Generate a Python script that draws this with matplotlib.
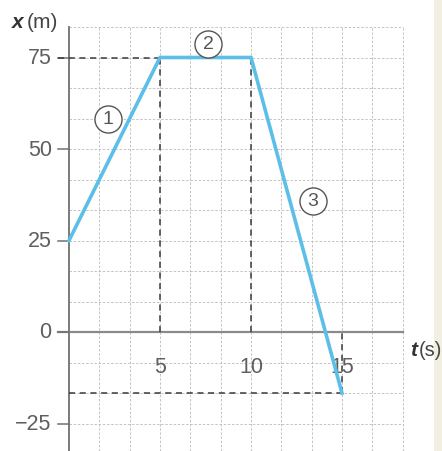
import matplotlib
matplotlib.use("Agg")
import matplotlib.pyplot as plt
from matplotlib.patches import Rectangle
import numpy as np

# ---- data ----
t_values = [0, 5, 10, 15]
x_values = [25, 75, 75, -16.7]
y_ticks = [75, 50, 25, 0, -25]
y_tick_labels = ["75", "50", "25", "0", "\u221225"]
x_ticks = [5, 10, 15]
x_tick_labels = ["5", "10", "15"]
segment_labels = ["1", "2", "3"]
segment_label_pos = [(2.14, 58.2), (7.64, 78.7), (13.4, 35.8)]

W, H = 442, 452
fig = plt.figure(figsize=(W / 100, H / 100), dpi=100)
ax = fig.add_axes([0, 0, 1, 1])

# pixel mapping: t=0 -> 69 px, 18.2 px/s ; x=0 -> 333 px, 3.66 px/m
px_t0, px_per_t = 69.0, 18.2
py_x0, py_per_x = 333.0, 3.66
ax.set_xlim(-px_t0 / px_per_t, (W - px_t0) / px_per_t)
ax.set_ylim(-(H - py_x0) / py_per_x, py_x0 / py_per_x)
ax.axis("off")

grid_color = "#bcbcbc"
t_grid_max = 11 * 5 / 3
x_grid_top = 10 * 25 / 3
ybot = ax.get_ylim()[0]

# scan shadow on the right edge
ax.add_patch(Rectangle((ax.get_xlim()[1] - 0.45, ybot), 0.6, 200,
                       facecolor="#f3eee2", edgecolor="none", zorder=0))

# grid
for k in range(1, 12):
    tg = k * 5 / 3
    ax.plot([tg, tg], [ybot, x_grid_top], color=grid_color, lw=0.6,
            ls=(0, (3, 2)), zorder=1)
for j in range(-3, 11):
    yg = j * 25 / 3
    ax.plot([0, t_grid_max], [yg, yg], color=grid_color, lw=0.6,
            ls=(0, (3, 2)), zorder=1)

# axes lines
ax.plot([0, 0], [ybot, x_grid_top], color="#707070", lw=1.3, zorder=2)
ax.plot([-0.6, t_grid_max], [0, 0], color="#8a8a8a", lw=1.6, zorder=2)
for yv in y_ticks:
    ax.plot([-0.6, 0], [yv, yv], color="#707070", lw=1.1, zorder=2)

# dashed helper lines
dash = dict(color="#3a3a3a", lw=1.1, ls=(0, (4, 3)), zorder=3)
ax.plot([-0.6, t_values[1]], [x_values[1], x_values[1]], **dash)
ax.plot([t_values[1], t_values[1]], [0, x_values[1]], **dash)
ax.plot([t_values[2], t_values[2]], [0, x_values[2]], **dash)
ax.plot([t_values[3], t_values[3]], [x_values[3], 0], **dash)
ax.plot([0, t_values[3]], [x_values[3], x_values[3]], **dash)

# motion line
ax.plot(t_values, x_values, color="#5bbfe8", lw=2.6, zorder=4,
        solid_joinstyle="miter")

# tick labels
font = "Liberation Sans"
for yv, lab in zip(y_ticks, y_tick_labels):
    ax.text(-0.95, yv, lab, ha="right", va="center", fontsize=15.5,
            color="#5f5f5f", family=font)
for xv, lab in zip(x_ticks, x_tick_labels):
    ax.text(xv, -9.5, lab, ha="center", va="center", fontsize=15.5,
            color="#5f5f5f", family=font)

# circled segment labels
for lab, (tx, xx) in zip(segment_labels, segment_label_pos):
    ax.scatter([tx], [xx], s=380, facecolors="white", edgecolors="#555555",
               linewidths=1.0, zorder=5)
    ax.text(tx, xx, lab, ha="center", va="center", fontsize=14,
            color="#555555", family=font, zorder=6)

# axis titles
def fx(px):
    return px / W

def fy(py):
    return 1 - py / H

fig.text(fx(12), fy(22), "x", fontsize=15, style="italic", weight="bold",
         color="#333333", family=font, va="center", ha="left")
fig.text(fx(27), fy(22), "(m)", fontsize=15, color="#444444", family=font,
         va="center", ha="left")
fig.text(fx(410), fy(351), "t", fontsize=15, style="italic", weight="bold",
         color="#333333", family=font, va="center", ha="left")
fig.text(fx(419), fy(351), "(s)", fontsize=14.5, color="#444444", family=font,
         va="center", ha="left")

fig.savefig("out.png", dpi=100)
